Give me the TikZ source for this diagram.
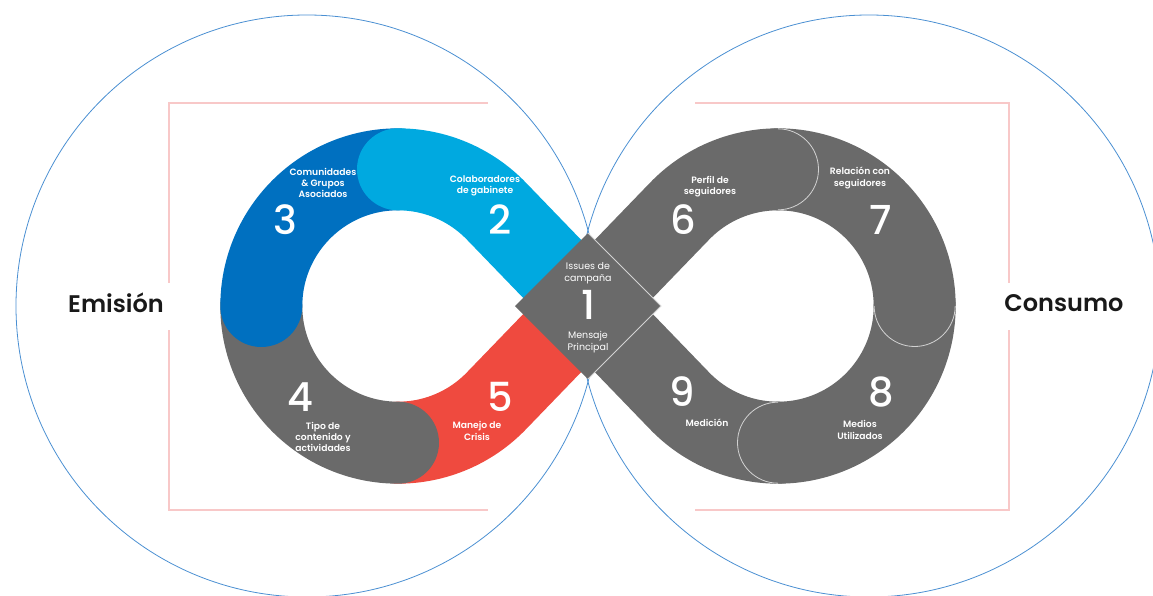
\documentclass[tikz,border=0pt]{standalone}
\usepackage{fontspec}
\setmainfont{Poppins}[BoldFont=Poppins SemiBold]
\newfontfamily\numfont{Poppins Medium}
\usetikzlibrary{calc}
\definecolor{azul}{HTML}{0070C0}
\definecolor{celeste}{HTML}{00A9E0}
\definecolor{rojo}{HTML}{EF4A3F}
\definecolor{gris}{HTML}{6A6A6A}
\definecolor{linea}{HTML}{4A8FD2}
\definecolor{rosa}{HTML}{F8C8C8}
\tikzset{
	seg/.style={line width=82pt, line cap=round},
	capline/.style={draw=white!70!gris, line width=0.8pt},
	ring/.style={draw=linea, line width=0.8pt},
	frame/.style={draw=rosa, line width=1.4pt},
	num/.style={text=white, font=\numfont\fontsize{40}{40}\selectfont, inner sep=0, text height=28pt, text depth=0pt},
	lbl/.style={text=white, font=\bfseries\fontsize{9.2}{11.2}\selectfont, align=center, inner sep=0},
	lblc/.style={text=white, font=\fontsize{9.5}{11.5}\selectfont, align=center, inner sep=0},
	side/.style={text=black!90, font=\bfseries\fontsize{24}{24}\selectfont, inner sep=0}
}
\pgfmathsetmacro\rc{190*cos(44)}

\begin{document}
\begin{tikzpicture}[x=1pt,y=1pt]
	\useasboundingbox (-588,-289) rectangle (565,306);
	\clip (-588,-289) rectangle (565,306);
	
	\coordinate (c) at (0,0);
	\coordinate (L) at (-190,0);
	\coordinate (R) at (190,0);
	
	%%%% circles and frames
	\draw[ring] (-281,0) circle (291pt);
	\draw[ring] (281,0) circle (291pt);
	\draw[frame] (-100,203) -- (-419,203) -- (-419,23) (-419,-24) -- (-419,-204) -- (-100,-204);
	\draw[frame] (107,203) -- (421,203) -- (421,23) (421,-24) -- (421,-204) -- (107,-204);
	
	%%%% left loop: 5, 4, 3, 2
	\draw[seg,rojo] (c) -- ($(L)+(-44:\rc)$) arc[start angle=-44, end angle=-90, radius=\rc];
	\draw[seg,gris] ($(L)+(180:\rc)$) arc[start angle=180, end angle=270, radius=\rc];
	\draw[seg,azul] ($(L)+(90:\rc)$) arc[start angle=90, end angle=180, radius=\rc];
	\draw[seg,celeste] (c) -- ($(L)+(44:\rc)$) arc[start angle=44, end angle=90, radius=\rc];
	
	%%%% right loop: 9, 8, 7, 6
	\draw[seg,gris] (c) -- ($(R)+(-136:\rc)$) arc[start angle=-136, end angle=-90, radius=\rc];
	\draw[seg,gris] ($(R)+(0:\rc)$) arc[start angle=0, end angle=-90, radius=\rc];
	\draw[capline] ($(R)+(0,-\rc)+(0,-40.5)$) arc[start angle=-90, end angle=-270, radius=40.5];
	\draw[seg,gris] ($(R)+(90:\rc)$) arc[start angle=90, end angle=0, radius=\rc];
	\draw[capline] ($(R)+(\rc,0)+(40.5,0)$) arc[start angle=0, end angle=-180, radius=40.5];
	\draw[seg,gris] (c) -- ($(R)+(136:\rc)$) arc[start angle=136, end angle=90, radius=\rc];
	\draw[capline] ($(R)+(0,\rc)+(0,40.5)$) arc[start angle=90, end angle=-90, radius=40.5];
	
	%%%% center
	\fill[gris] (0,73) -- (73,0) -- (0,-73) -- (-73,0) -- cycle;
	\draw[capline] (0,73) -- (73,0) -- (0,-73);
	
	\node[lblc] (t1a) at (0,33) {Issues de\\campaña};
	\node[num] (n1) at (0,1) {1};
	\node[lblc] (t1b) at (0,-36) {Mensaje\\Principal};
	
	\node[lbl] (t2) at (-103,120) {Colaboradores\\de gabinete};
	\node[num] (n2) at (-88,86) {2};
	\node[lbl] (t3) at (-265,123) {Comunidades\\\& Grupos\\Asociados};
	\node[num] (n3) at (-303,86) {3};
	\node[num] (n4) at (-288,-91) {4};
	\node[lbl] (t4) at (-265,-131) {Tipo de\\contenido y\\actividades};
	\node[num] (n5) at (-88,-91) {5};
	\node[lbl] (t5) at (-111,-125) {Manejo de\\Crisis};
	
	\node[lbl] (t6) at (122,119) {Perfil de\\seguidores};
	\node[num] (n6) at (95,86) {6};
	\node[lbl] (t7) at (272,128) {Relación con\\seguidores};
	\node[num] (n7) at (293,86) {7};
	\node[num] (n8) at (293,-86) {8};
	\node[lbl] (t8) at (272,-124) {Medios\\Utilizados};
	\node[num] (n9) at (94,-86) {9};
	\node[lbl] (t9) at (119,-117) {Medición};
	
	%%%% sides
	\node[side] (emi) at (-472,3) {Emisión};
	\node[side] (con) at (476,3) {Consumo};
\end{tikzpicture}
\end{document}
